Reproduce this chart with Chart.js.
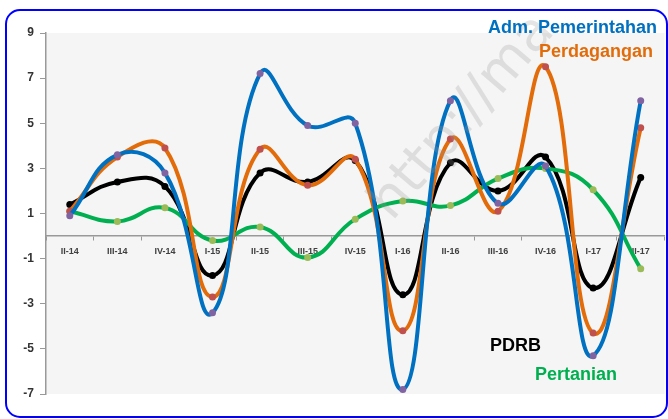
<!DOCTYPE html>
<html>
<head>
<meta charset="utf-8">
<script src="https://cdn.jsdelivr.net/npm/chart.js@4.4.1/dist/chart.umd.min.js"></script>
<style>
  html, body { margin: 0; padding: 0; background: #fff; }
  #wrap { width: 668px; height: 419px; }
</style>
</head>
<body>
<div id="wrap"><canvas id="pdrbChart" width="668" height="419"></canvas></div>
<script>
const labels = ['II-14', 'III-14', 'IV-14', 'I-15', 'II-15', 'III-15', 'IV-15', 'I-16', 'II-16', 'III-16', 'IV-16', 'I-17', 'II-17'];
const admPemerintahan = [0.9, 3.6, 2.8, -3.4, 7.2, 4.9, 5.0, -6.8, 6.0, 1.45, 3.1, -5.3, 6.0];
const perdagangan = [1.1, 3.5, 3.9, -2.7, 3.85, 2.25, 3.4, -4.2, 4.3, 1.1, 7.5, -4.3, 4.8];
const pdrb = [1.4, 2.4, 2.2, -1.75, 2.8, 2.4, 3.35, -2.6, 3.25, 2.0, 3.5, -2.3, 2.6];
const pertanian = [1.1, 0.65, 1.25, -0.2, 0.4, -0.95, 0.75, 1.55, 1.35, 2.55, 3.0, 2.05, -1.45];
const yTicks = [-7, -5, -3, -1, 1, 3, 5, 7, 9];

// plot background, rounded blue frame, watermark and the series names
const decor = {
  id: 'decor',
  beforeDraw(chart) {
    const { ctx, chartArea } = chart;
    ctx.save();
    ctx.fillStyle = '#f5f5f5';
    ctx.fillRect(chartArea.left, chartArea.top, chartArea.right - chartArea.left, chartArea.bottom - chartArea.top);
    ctx.restore();
  },
  afterDatasetsDraw(chart) {
    const { ctx } = chart;
    ctx.save();
    ctx.translate(392, 222);
    ctx.rotate(-0.86);
    ctx.font = '54px "DejaVu Sans"';
    ctx.fillStyle = 'rgba(150,150,150,0.25)';
    ctx.fillText('http://ma', 0, 0);
    ctx.restore();
  },
  afterDraw(chart) {
    const { ctx } = chart;
    ctx.save();
    ctx.strokeStyle = '#0000ff';
    ctx.lineWidth = 2;
    ctx.beginPath();
    ctx.roundRect(6, 10, 661, 407, 14);
    ctx.stroke();

    ctx.font = 'bold 18px "Liberation Sans", Arial';
    ctx.textBaseline = 'alphabetic';
    ctx.textAlign = 'right';
    ctx.fillStyle = '#0070c0';
    ctx.fillText('Adm. Pemerintahan', 657, 33);
    ctx.fillStyle = '#e36c0a';
    ctx.fillText('Perdagangan', 653, 57);
    ctx.textAlign = 'left';
    ctx.fillStyle = '#000000';
    ctx.fillText('PDRB', 490, 351);
    ctx.fillStyle = '#00b050';
    ctx.fillText('Pertanian', 535, 380);
    ctx.restore();
  }
};

new Chart(document.getElementById('pdrbChart').getContext('2d'), {
  type: 'line',
  data: {
    labels: labels,
    datasets: [
      {
        label: 'Adm. Pemerintahan',
        data: admPemerintahan,
        borderColor: '#0070c0',
        pointBackgroundColor: '#8064a2',
        pointBorderColor: '#8064a2'
      },
      {
        label: 'Perdagangan',
        data: perdagangan,
        borderColor: '#e36c0a',
        pointBackgroundColor: '#c0504d',
        pointBorderColor: '#c0504d'
      },
      {
        label: 'Pertanian',
        data: pertanian,
        borderColor: '#00b050',
        pointBackgroundColor: '#9bbb59',
        pointBorderColor: '#9bbb59'
      },
      {
        label: 'PDRB',
        data: pdrb,
        borderColor: '#000000',
        pointBackgroundColor: '#000000',
        pointBorderColor: '#000000'
      }
    ]
  },
  options: {
    responsive: false,
    animation: false,
    layout: { padding: { top: 33, bottom: 25, left: 0, right: 0 } },
    elements: {
      line: { tension: 0.45, borderWidth: 4, fill: false },
      point: { radius: 3.5, borderWidth: 0, hoverRadius: 3.5 }
    },
    scales: {
      x: {
        position: { y: 0 },
        offset: true,
        afterFit: scale => { scale.height = 0; },
        grid: { display: true, offset: true, drawOnChartArea: false, drawTicks: true, tickLength: 4, color: '#999' },
        border: { display: true, color: '#999', width: 1.5 },
        ticks: {
          color: '#404040',
          padding: 6,
          maxRotation: 0,
          autoSkip: false,
          font: { family: '"Liberation Sans", Arial', size: 9, weight: 'bold' }
        }
      },
      y: {
        min: -7,
        max: 9,
        afterFit: scale => { scale.width = 46; },
        afterBuildTicks: scale => { scale.ticks = yTicks.map(v => ({ value: v })); },
        grid: { drawOnChartArea: false, drawTicks: true, tickLength: 6, color: '#999' },
        border: { display: true, color: '#999', width: 1.5 },
        ticks: {
          color: '#333',
          padding: 6,
          font: { family: '"Liberation Sans", Arial', size: 12, weight: 'bold' }
        }
      }
    },
    plugins: {
      legend: { display: false },
      title: { display: false },
      tooltip: { enabled: false }
    }
  },
  plugins: [decor]
});
</script>
</body>
</html>
